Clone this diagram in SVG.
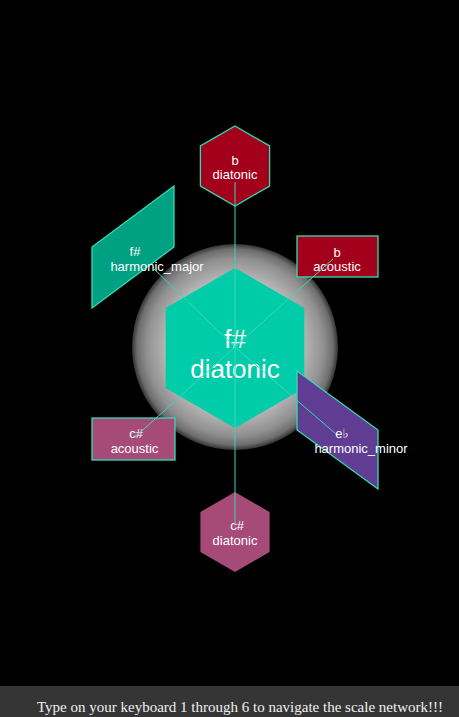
<svg xmlns="http://www.w3.org/2000/svg" width="459" height="717" viewBox="0 0 459 717">
<defs>
<radialGradient id="glow" cx="0.5" cy="0.5" r="0.5">
<stop offset="0" stop-color="#eeeeee"/>
<stop offset="0.6" stop-color="#c4c4c4"/>
<stop offset="0.86" stop-color="#909090"/>
<stop offset="0.95" stop-color="#6e6e6e"/>
<stop offset="1" stop-color="#333333"/>
</radialGradient>
<style>
.lbl{font-family:"Liberation Sans","DejaVu Sans",Arial,sans-serif;font-size:13px;fill:#ffffff;text-anchor:middle}
.big{font-family:"Liberation Sans","DejaVu Sans",Arial,sans-serif;font-size:26px;fill:#ffffff;text-anchor:middle}
.st{stroke:#33dcb4;stroke-width:1.3}
.edge{stroke:#3ad8b5;stroke-width:1;fill:none}
</style>
</defs>
<rect x="0" y="0" width="459" height="717" fill="#000000"/>
<circle cx="235" cy="347" r="103" fill="url(#glow)"/>

<g id="node-fsharp-diatonic">
<polygon points="235,268 304.3,308 304.3,388 235,428 165.7,388 165.7,308" fill="#00cca9"/>
<text class="big" x="235" y="348">f#</text>
<text class="big" x="235" y="378">diatonic</text>
</g>

<g id="node-b-diatonic">
<polygon class="st" points="235,126 269.6,146 269.6,186 235,206 200.4,186 200.4,146" fill="#a3001b"/>
<text class="lbl" x="235" y="165">b</text>
<text class="lbl" x="235" y="179">diatonic</text>
</g>

<g id="node-b-acoustic">
<rect class="st" x="297" y="236" width="81" height="41" fill="#a3001b"/>
<text class="lbl" x="337" y="257">b</text>
<text class="lbl" x="337" y="271">acoustic</text>
</g>

<g id="node-fsharp-harmonic-major">
<polygon class="st" points="92,247 174,186 174,247 92,308" fill="#00a082"/>
<text class="lbl" x="135" y="256">f#</text>
<text class="lbl" x="157" y="271">harmonic_major</text>
</g>

<g id="node-csharp-acoustic">
<rect class="st" x="92" y="418" width="83" height="42" fill="#a64a78"/>
<text class="lbl" x="136" y="438">c#</text>
<text class="lbl" x="134.5" y="453">acoustic</text>
</g>

<g id="node-eflat-harmonic-minor">
<polygon class="st" points="297,371 378,430 378,489 297,430" fill="#603c92"/>
<text class="lbl" x="342" y="438">e♭</text>
<text class="lbl" x="361" y="453">harmonic_minor</text>
</g>

<g id="node-csharp-diatonic">
<polygon points="235,492 269.6,512 269.6,552 235,572 200.4,552 200.4,512" fill="#a64a78"/>
<text class="lbl" x="237" y="530">c#</text>
<text class="lbl" x="235" y="545">diatonic</text>
</g>

<g id="connectors">
<line class="edge" x1="235" y1="182" x2="235" y2="347"/>
<line class="edge" x1="235" y1="347" x2="235" y2="525"/>
<line class="edge" x1="235" y1="347" x2="333" y2="259"/>
<line class="edge" x1="235" y1="347" x2="134" y2="438"/>
<line class="edge" x1="235" y1="347" x2="336" y2="434"/>
<line class="edge" x1="235" y1="347" x2="152" y2="267"/>
</g>

<rect x="0" y="686" width="459" height="31" fill="#353535"/>
<text x="37" y="712" font-family="'Liberation Serif','DejaVu Serif',serif" font-size="15" textLength="406" lengthAdjust="spacingAndGlyphs" fill="#f0f0f0">Type on your keyboard 1 through 6 to navigate the scale network!!!</text>
</svg>
